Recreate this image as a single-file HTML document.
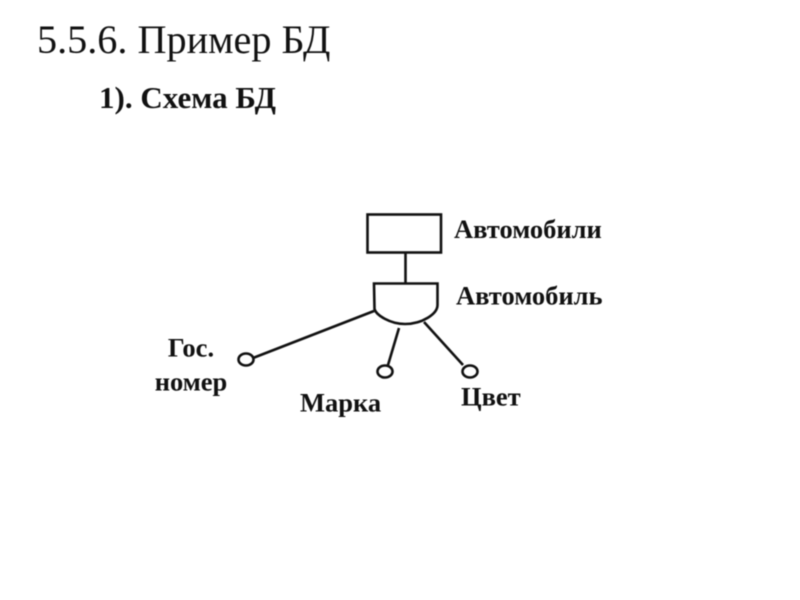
<!DOCTYPE html>
<html><head><meta charset="utf-8">
<style>html,body{margin:0;padding:0;background:#fff}svg{display:block;filter:blur(0.4px)}
text{font-family:"Liberation Serif",serif;fill:#111}</style></head>
<body>
<svg width="800" height="600" viewBox="0 0 800 600" xmlns="http://www.w3.org/2000/svg">
<rect width="800" height="600" fill="#fff"/>
<text x="37" y="53" font-size="40.200">5.5.6. Пример БД</text>
<text x="99" y="108" font-size="31" font-weight="bold">1). Схема БД</text>
<g fill="none" stroke="#111" stroke-width="2.600">
<rect x="367.500" y="214.500" width="73.500" height="38"/>
<line x1="405.500" y1="252.500" x2="405.500" y2="283"/>
<path d="M374 283.500H437.500V305C437.500 314 422 324 405 324C390 324 376 315 374.500 309Z"/>
<line x1="374" y1="311" x2="253" y2="358"/>
<line x1="399" y1="328" x2="388" y2="365"/>
<line x1="424" y1="322" x2="463" y2="365"/>
<ellipse cx="246" cy="359.500" rx="7.500" ry="6"/>
<ellipse cx="385" cy="371.500" rx="7.500" ry="6"/>
<ellipse cx="470" cy="371.500" rx="7.500" ry="6"/>
</g>
<g font-size="26.500" font-weight="bold">
<text x="454" y="238">Автомобили</text>
<text x="456" y="304.500">Автомобиль</text>
<text x="191" y="356.500" text-anchor="middle">Гос.</text>
<text x="191" y="390.500" text-anchor="middle">номер</text>
<text x="300" y="411.500">Марка</text>
<text x="461" y="405.500">Цвет</text>
</g>
</svg>
</body></html>
